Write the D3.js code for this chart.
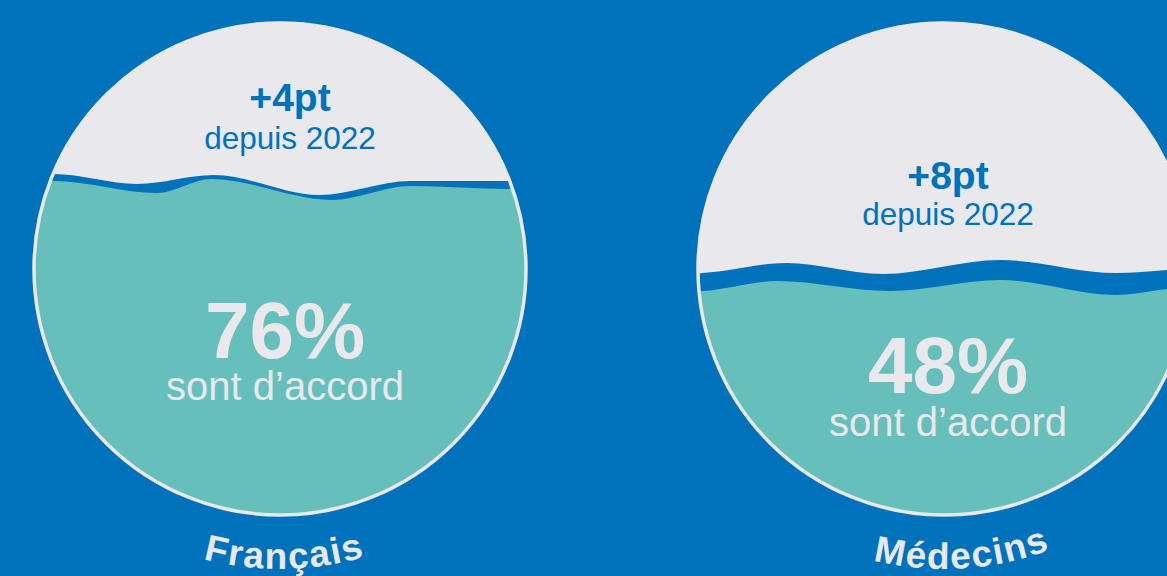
<!DOCTYPE html>
<html>
<head>
<meta charset="utf-8">
<script src="https://cdn.jsdelivr.net/npm/d3@7"></script>
<style>
  html, body { margin: 0; padding: 0; background: #0072BC; overflow: hidden; }
  svg { display: block; }
</style>
</head>
<body>
<svg id="chart" width="1167" height="576"></svg>
<script>
// ---- data ----
const categories = ["Français", "Médecins"];
const values = [76, 48];                 // % "sont d'accord"
const changes = ["+4pt", "+8pt"];        // evolution since 2022
const changeSuffix = "depuis 2022";
const valueSuffix = "sont d’accord";

// ---- decorative wave shapes (u = fraction of radius, dy = px offset from level) ----
const waveBack = [
  [{u:-1.08,dy:-15},{u:-0.92,dy:-15},{u:-0.58,dy:-5},{u:-0.27,dy:-14},{u:0.16,dy:6},{u:0.53,dy:-8},{u:0.93,dy:-8},{u:1.08,dy:-9}],
  [{u:-1.08,dy:-13},{u:-0.98,dy:-14},{u:-0.64,dy:-24},{u:-0.25,dy:-13},{u:0.23,dy:-27},{u:0.70,dy:-14},{u:0.91,dy:-17},{u:1.08,dy:-20}]
];
const waveFront = [
  [{u:-1.08,dy:-8},{u:-0.92,dy:-8},{u:-0.50,dy:4},{u:-0.28,dy:-10},{u:0.21,dy:11},{u:0.53,dy:-3},{u:0.94,dy:0},{u:1.08,dy:0}],
  [{u:-1.08,dy:5},{u:-0.98,dy:4},{u:-0.68,dy:-6},{u:-0.22,dy:4},{u:0.23,dy:-7},{u:0.70,dy:8},{u:0.91,dy:2},{u:1.08,dy:-2}]
];

// ---- layout / style ----
const W = 1167, H = 576;
const BG = "#0072BC", TEAL = "#67BFBC", LIGHT = "#E8E8ED";
const R = 246, CY = 269;
const layout = [
  { upDx: 10, lowDx: 5, upY: -158, upY2: -120, lowY: 89, lowY2: 131, labelOffset: 50.5 },
  { upDx: 4,  lowDx: 4, upY: -80,  upY2: -44,  lowY: 124, lowY2: 167, labelOffset: 52 }
];

const svg = d3.select("#chart");
svg.append("rect").attr("width", W).attr("height", H).attr("fill", BG);

const x = d3.scalePoint().domain(categories).range([280, 944]);
// level of the water (relative to circle centre) for a given percentage
const level = d3.scaleLinear().domain([0, 100]).range([CY + 186, CY - 164]);

const FONT = "'Liberation Sans', Arial, Helvetica, sans-serif";
const defs = svg.append("defs");

categories.forEach((cat, i) => {
  const cx = x(cat);
  const lv = level(values[i]);
  const L = layout[i];

  defs.append("clipPath").attr("id", "clip" + i)
    .append("circle").attr("cx", cx).attr("cy", CY).attr("r", R);

  const g = svg.append("g");
  g.append("circle").attr("cx", cx).attr("cy", CY).attr("r", R).attr("fill", LIGHT);

  const area = d3.area()
    .x(d => cx + d.u * R)
    .y0(CY + R + 10)
    .y1(d => lv + d.dy)
    .curve(d3.curveMonotoneX);

  const water = g.append("g").attr("clip-path", `url(#clip${i})`);
  water.append("path").attr("d", area(waveBack[i])).attr("fill", BG);
  water.append("path").attr("d", area(waveFront[i])).attr("fill", TEAL);

  g.append("circle").attr("cx", cx).attr("cy", CY).attr("r", R)
    .attr("fill", "none").attr("stroke", LIGHT).attr("stroke-width", 3.5);

  // upper text block
  const up = g.append("text").attr("text-anchor", "middle")
    .attr("font-family", FONT).attr("fill", BG);
  up.append("tspan").attr("x", cx + L.upDx).attr("y", CY + L.upY)
    .attr("font-weight", 700).attr("font-size", 39).text(changes[i]);
  up.append("tspan").attr("x", cx + L.upDx).attr("y", CY + L.upY2)
    .attr("font-size", 31.5).text(changeSuffix);

  // lower text block
  const low = g.append("text").attr("text-anchor", "middle")
    .attr("font-family", FONT).attr("fill", LIGHT);
  low.append("tspan").attr("x", cx + L.lowDx).attr("y", CY + L.lowY)
    .attr("font-weight", 700).attr("font-size", 80).text(values[i] + "%");
  low.append("tspan").attr("x", cx + L.lowDx).attr("y", CY + L.lowY2)
    .attr("font-size", 40).text(valueSuffix);

  // curved category label
  const RL = 300;
  defs.append("path").attr("id", "arc" + i)
    .attr("d", `M${cx - RL},${CY} A${RL},${RL} 0 0 0 ${cx + RL},${CY}`);
  g.append("text").attr("font-family", FONT).attr("font-weight", 700)
    .attr("font-size", 37).attr("letter-spacing", 1.6).attr("fill", LIGHT)
    .append("textPath").attr("href", "#arc" + i)
    .attr("startOffset", L.labelOffset + "%").attr("text-anchor", "middle")
    .text(cat);
});
</script>
</body>
</html>
